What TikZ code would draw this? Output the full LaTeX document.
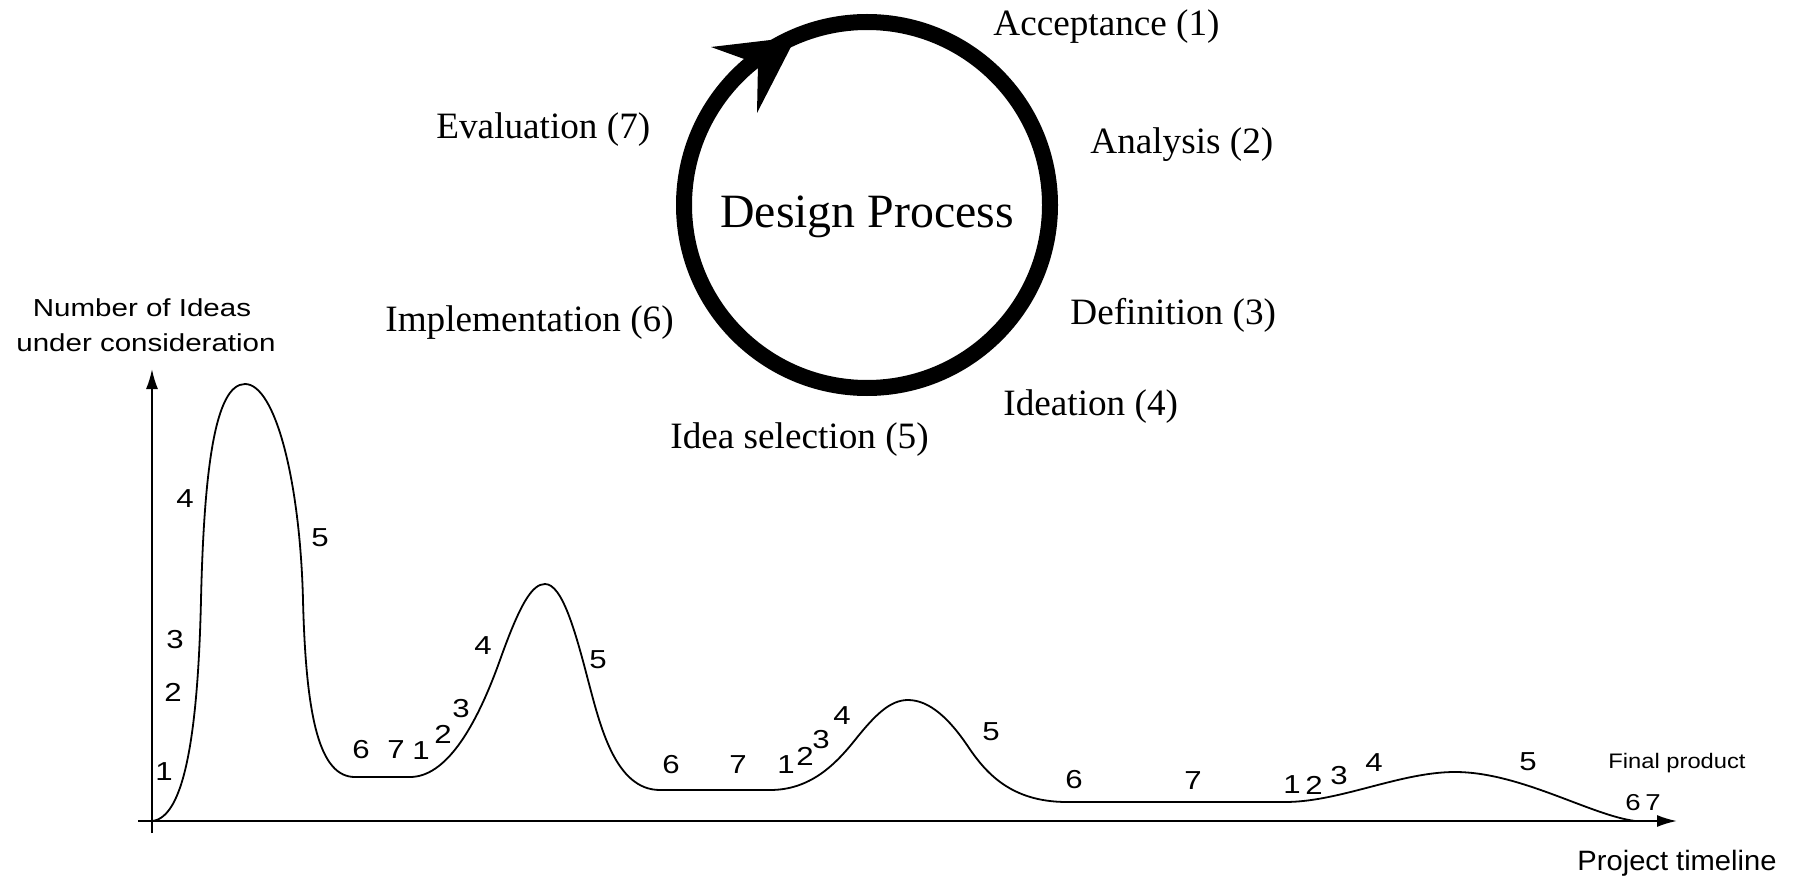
\documentclass[tikz,border=0pt]{standalone}
\usepackage{fontspec}
\setmainfont{Liberation Serif}
\newfontfamily\chartsans{Liberation Sans}
\usetikzlibrary{arrows.meta}
\tikzset{
  lab/.style={font=\fontsize{18.6}{22}\selectfont, anchor=base west, inner sep=0pt},
  dig/.style={font=\chartsans\fontsize{13}{15}\selectfont, xscale=1.2, inner sep=0pt, anchor=center},
  axlab/.style={font=\chartsans\fontsize{12.3}{14}\selectfont, xscale=1.2, inner sep=0pt, anchor=base},
  axisline/.style={line width=1pt, -{Latex[length=10pt,width=6pt]}},
  curveline/.style={line width=0.9pt, line join=round},
}
\begin{document}
\begin{tikzpicture}[x=0.5pt, y=-0.5pt]
\useasboundingbox (0,0) rectangle (1799,877);
% ---------- design process cycle ----------
\coordinate (cc) at (867,205);
\draw[line width=8pt] (cc) circle[radius=91.5pt];
\fill (796,37) -- (711,47) -- (758,64) -- (757,113) -- cycle;
\node[font=\fontsize{23.9}{28}\selectfont, anchor=base, inner sep=0pt] (dp) at (867,228) {Design Process};
\node[lab] (acc) at (993,36) {Acceptance (1)};
\node[lab] (ana) at (1090,154) {Analysis (2)};
\node[lab] (def) at (1070,324) {Definition (3)};
\node[lab] (ide) at (1003,415) {Ideation (4)};
\node[lab] (sel) at (670,448) {Idea selection (5)};
\node[lab] (imp) at (385,331) {Implementation (6)};
\node[lab] (eva) at (436,139) {Evaluation (7)};
% ---------- axes ----------
\coordinate (yb) at (152,833);
\coordinate (yt) at (152,369);
\coordinate (xl) at (138,821);
\coordinate (xr) at (1677,821);
\draw[axisline] (yb) -- (yt);
\draw[axisline] (xl) -- (xr);
\node[axlab] (ny1) at (142,316) {Number of Ideas};
\node[axlab] (ny2) at (146,351) {under consideration};
\node[font=\chartsans\fontsize{14}{16}\selectfont, xscale=1.04, inner sep=0pt, anchor=base] (pt) at (1677,870) {Project timeline};
\node[font=\chartsans\fontsize{10.5}{12}\selectfont, xscale=1.13, inner sep=0pt, anchor=base] (fp) at (1677,768) {Final product};
% ---------- curve ----------
\draw[curveline] (152,821)
  .. controls (185,818) and (198,730) .. (201,600)
  .. controls (204,470) and (215,384) .. (245,384)
  .. controls (275,384) and (300,480) .. (303,600)
  .. controls (306,720) and (320,777) .. (355,777)
  -- (410,777)
  .. controls (445,777) and (475,730) .. (500,660)
  .. controls (520,604) and (532,584) .. (545,584)
  .. controls (562,584) and (575,630) .. (588,680)
  .. controls (600,725) and (615,790) .. (660,790)
  -- (770,790)
  .. controls (810,790) and (835,765) .. (855,740)
  .. controls (875,715) and (890,700) .. (908,700)
  .. controls (930,700) and (950,720) .. (967,745)
  .. controls (985,772) and (1010,802) .. (1067,802)
  -- (1285,802)
  .. controls (1340,802) and (1400,772) .. (1455,772)
  .. controls (1520,772) and (1590,815) .. (1635,821);
% ---------- phase numbers ----------
\node[dig] (a4) at (185,499) {4};
\node[dig] (a5) at (320,538) {5};
\node[dig] (a3) at (175,640) {3};
\node[dig] (a2) at (173,692) {2};
\node[dig] (a1) at (164,772) {1};
\node[dig] (b6) at (361,750) {6};
\node[dig] (b7) at (396,750) {7};
\node[dig] (b1) at (421,751) {1};
\node[dig] (b2) at (443,734) {2};
\node[dig] (b3) at (461,709) {3};
\node[dig] (b4) at (483,646) {4};
\node[dig] (b5) at (598,660) {5};
\node[dig] (c6) at (671,765) {6};
\node[dig] (c7) at (738,765) {7};
\node[dig] (c1) at (786,765) {1};
\node[dig] (c2) at (805,756) {2};
\node[dig] (c3) at (821,740) {3};
\node[dig] (c4) at (842,716) {4};
\node[dig] (c5) at (991,732) {5};
\node[dig] (d6) at (1074,780) {6};
\node[dig] (d7) at (1193,781) {7};
\node[dig] (d1) at (1292,785) {1};
\node[dig] (d2) at (1314,785) {2};
\node[dig] (d3) at (1339,776) {3};
\node[dig] (d4) at (1374,763) {4};
\node[dig] (d5) at (1528,762) {5};
\node[dig, font=\chartsans\fontsize{11.5}{14}\selectfont] (e6) at (1633,803) {6};
\node[dig, font=\chartsans\fontsize{11.5}{14}\selectfont] (e7) at (1653,803) {7};
\end{tikzpicture}
\end{document}
